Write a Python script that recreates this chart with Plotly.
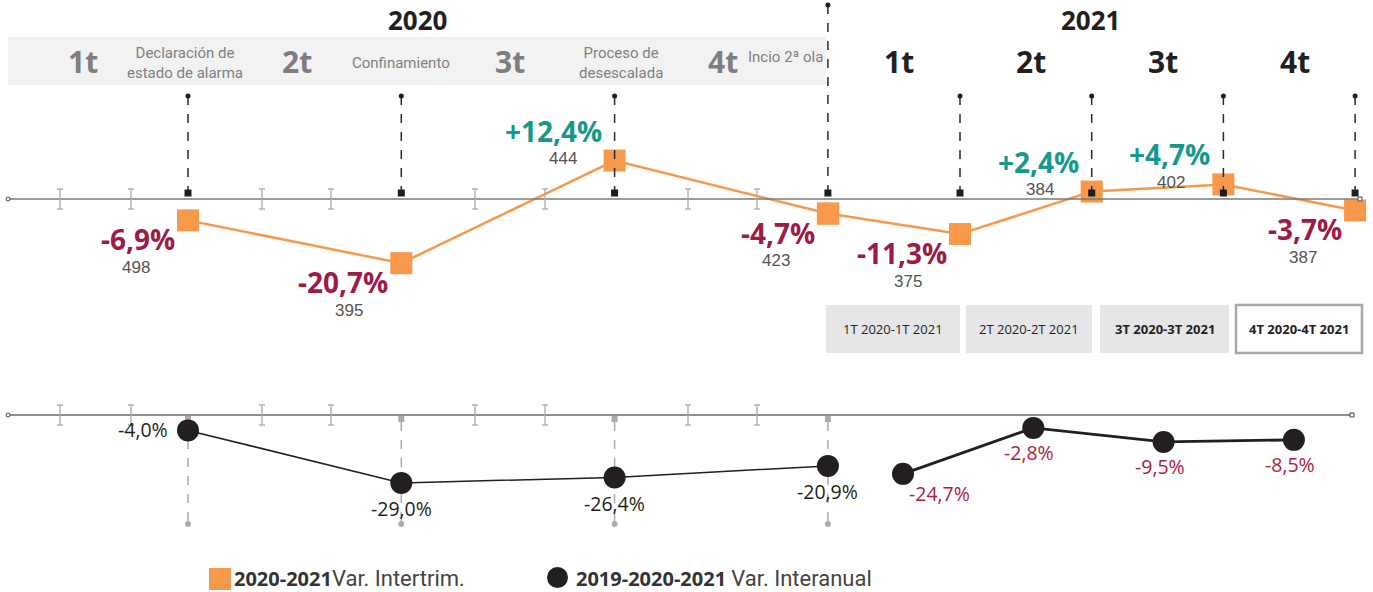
import plotly.graph_objects as go

# ---------------- data ----------------
quarters = [1, 2, 3, 4]
quarter_labels = ["1t", "2t", "3t", "4t"]
years = ["2020", "2021"]
events_2020 = ["Declaración de<br>estado de alarma", "Confinamiento",
               "Proceso de<br>desescalada", "Incio 2ª ola"]
var_intertrim_2020 = [-6.9, -20.7, 12.4, -4.7]
var_intertrim_2021 = [-11.3, 2.4, 4.7, -3.7]
total_2020 = [498, 395, 444, 423]
total_2021 = [375, 384, 402, 387]
var_interanual_2020 = [-4.0, -29.0, -26.4, -20.9]
var_interanual_2021 = [-24.7, -2.8, -9.5, -8.5]
comparison_labels = ["1T 2020-1T 2021", "2T 2020-2T 2021",
                     "3T 2020-3T 2021", "4T 2020-4T 2021"]
legend_bold = ["2020-2021", "2019-2020-2021"]
legend_text = ["Var. Intertrim.", "Var. Interanual"]

# ---------------- layout constants ----------------
W, H = 1373, 592
ORANGE = "#F7984A"
CRIMSON = "#9E1B45"
RED2 = "#B0203F"
TEAL = "#17998A"
DARK = "#231F20"
GRAY_NUM = "#555555"
FONT = "Open Sans"
NARROW = "Liberation Sans Narrow, Roboto"

X20 = (188, 213.3)    # pixel of quarter 1, pixels per quarter
X21T = (960, 131.7)
X21B = (903, 130.3)
YT = (199, 3.1)       # pixel of zero, pixels per unit
YB = (422, 2.1)


def xr(o, s):
    return [1 - o / s, 1 + (W - o) / s]


def yr(z, s):
    return [(z - H) / s, z / s]


def px(x):
    return x / W


def py(y):
    return 1 - y / H


def fmt(v, sign=False):
    s = f"{v:+.1f}%" if sign else f"{v:.1f}%"
    return s.replace(".", ",")


ann = []


def add_ann(**kw):
    d = dict(showarrow=False, xanchor="center", yanchor="middle")
    d.update(kw)
    ann.append(d)


fig = go.Figure()

# ---------------- traces ----------------
fig.add_trace(go.Scatter(x=quarters, y=var_intertrim_2020, xaxis="x", yaxis="y",
                         mode="lines+markers", line=dict(color=ORANGE, width=2.5),
                         marker=dict(symbol="square", size=22, color=ORANGE),
                         showlegend=False, hoverinfo="skip"))
fig.add_trace(go.Scatter(x=[0] + quarters, y=[var_intertrim_2020[-1]] + var_intertrim_2021,
                         xaxis="x2", yaxis="y",
                         mode="lines+markers", line=dict(color=ORANGE, width=2.5),
                         marker=dict(symbol="square", size=22, color=ORANGE),
                         showlegend=False, hoverinfo="skip"))
fig.add_trace(go.Scatter(x=quarters, y=var_interanual_2020, xaxis="x", yaxis="y2",
                         mode="lines+markers", line=dict(color=DARK, width=1.5),
                         marker=dict(symbol="circle", size=22, color=DARK),
                         showlegend=False, hoverinfo="skip"))
fig.add_trace(go.Scatter(x=quarters, y=var_interanual_2021, xaxis="x3", yaxis="y2",
                         mode="lines+markers", line=dict(color=DARK, width=2.8),
                         marker=dict(symbol="circle", size=22, color=DARK),
                         showlegend=False, hoverinfo="skip"))

shapes = []

# top band
shapes.append(dict(type="rect", xref="paper", yref="paper", x0=px(8), x1=px(826),
                   y0=py(85), y1=py(37), fillcolor="#F2F2F2", line=dict(width=0), layer="below"))

# baselines
shapes.append(dict(type="line", xref="paper", yref="y", x0=px(8), x1=px(1360), y0=0, y1=0,
                   line=dict(color="#7A7A7A", width=1.5)))
shapes.append(dict(type="line", xref="paper", yref="paper", x0=px(8), x1=px(1352),
                   y0=py(415), y1=py(415), line=dict(color="#6A6A6A", width=1.3)))
for yy, xe in [(199, 1360), (415, 1352)]:
    shapes.append(dict(type="circle", xref="paper", yref="paper", x0=px(6), x1=px(10),
                       y0=py(yy + 2), y1=py(yy - 2), fillcolor="white",
                       line=dict(color="#444", width=1)))
    shapes.append(dict(type="rect", xref="paper", yref="paper", x0=px(xe - 2), x1=px(xe + 2),
                       y0=py(yy + 2), y1=py(yy - 2), fillcolor="white",
                       line=dict(color="#444", width=1)))

# month ticks
TICK_X = [60, 131, 262, 331, 475, 545, 688, 757]
for yy in (199, 415):
    for tx in TICK_X:
        shapes.append(dict(type="line", xref="paper", yref="paper", x0=px(tx), x1=px(tx),
                           y0=py(yy - 10), y1=py(yy + 10), line=dict(color="#AAAAAA", width=1.3)))
        for cy in (yy - 10, yy + 10):
            shapes.append(dict(type="line", xref="paper", yref="paper", x0=px(tx - 3), x1=px(tx + 3),
                               y0=py(cy), y1=py(cy), line=dict(color="#AAAAAA", width=1.3)))

# top dashed quarter lines
for xref, q in [("x", 1), ("x", 2), ("x", 3), ("x", 4), ("x2", 1), ("x2", 2), ("x2", 3), ("x2", 4)]:
    top = 5 if (xref == "x" and q == 4) else 96
    shapes.append(dict(type="line", xref=xref, yref="paper", x0=q, x1=q,
                       y0=py(top), y1=py(194), line=dict(color="#2A2A2A", width=1.5, dash="dash")))
    shapes.append(dict(type="circle", xref=xref, yref="paper", xsizemode="pixel", ysizemode="pixel",
                       xanchor=q, yanchor=py(top), x0=-2.5, x1=2.5, y0=-2.5, y1=2.5,
                       fillcolor="#1E1E1E", line=dict(width=0)))
    shapes.append(dict(type="rect", xref=xref, yref="paper", xsizemode="pixel", ysizemode="pixel",
                       xanchor=q, yanchor=py(193), x0=-3.5, x1=3.5, y0=-3.5, y1=3.5,
                       fillcolor="#1E1E1E", line=dict(width=0)))

# bottom dashed lines (2020)
for q in quarters:
    shapes.append(dict(type="line", xref="x", yref="paper", x0=q, x1=q,
                       y0=py(422), y1=py(524), line=dict(color="#ABABAB", width=1.5, dash="dash"),
                       layer="below"))
    shapes.append(dict(type="rect", xref="x", yref="paper", xsizemode="pixel", ysizemode="pixel",
                       xanchor=q, yanchor=py(419), x0=-3, x1=3, y0=-3, y1=3,
                       fillcolor="#ABABAB", line=dict(width=0), layer="below"))
    shapes.append(dict(type="circle", xref="x", yref="paper", xsizemode="pixel", ysizemode="pixel",
                       xanchor=q, yanchor=py(524), x0=-3, x1=3, y0=-3, y1=3,
                       fillcolor="#ABABAB", line=dict(width=0), layer="below"))

# year headers
add_ann(x=px(417), y=py(20), xref="paper", yref="paper", text=f"<b>{years[0]}</b>",
        font=dict(family=FONT, size=26, color=DARK))
add_ann(x=px(1090), y=py(20), xref="paper", yref="paper", text=f"<b>{years[1]}</b>",
        font=dict(family=FONT, size=26, color=DARK))

# quarter labels in band
for q, lab in zip(quarters, quarter_labels):
    add_ann(x=q - 0.49, y=py(62), xref="x", yref="paper", text=f"<b>{lab}</b>",
            font=dict(family=FONT, size=30, color="#7E7E7E"))
    add_ann(x=q - 0.46, y=py(62), xref="x2", yref="paper", text=f"<b>{lab}</b>",
            font=dict(family=FONT, size=30, color=DARK))
EVENT_SHIFT = [-3, 0, 6, -42]
EVENT_Y = [63, 63, 63, 57]
for q, ev, sh, ey in zip(quarters, events_2020, EVENT_SHIFT, EVENT_Y):
    add_ann(x=q, y=py(ey), xref="x", yref="paper", xshift=sh, text=ev,
            font=dict(family=NARROW, size=15, color="#808080"), align="center")

# top labels
for xref, vals, tots in [("x", var_intertrim_2020, total_2020), ("x2", var_intertrim_2021, total_2021)]:
    for q, v, n in zip(quarters, vals, tots):
        pos = v > 0
        ys = 30 if pos else -19
        add_ann(x=q, y=v, xref=xref, yref="y", xanchor="right",
                xshift=-11, yshift=ys, text=f"<b>{fmt(v, sign=pos)}</b>",
                font=dict(family=FONT, size=28, color=TEAL if pos else CRIMSON))
        add_ann(x=q, y=v, xref=xref, yref="y",
                xshift=-52, yshift=ys - 28, text=str(n),
                font=dict(family="Liberation Sans", size=17, color=GRAY_NUM))

# bottom labels
for i, (q, v) in enumerate(zip(quarters, var_interanual_2020)):
    if i == 0:
        a = dict(xanchor="right", xshift=-18, yshift=1)
    else:
        a = dict(xanchor="center", xshift=0, yshift=-26)
    add_ann(x=q, y=v, xref="x", yref="y2", text=fmt(v),
            font=dict(family=FONT, size=19.5, color=DARK), **a)
for i, (q, v) in enumerate(zip(quarters, var_interanual_2021)):
    if i == 0:
        a = dict(xanchor="left", xshift=4, yshift=-20)
    else:
        a = dict(xanchor="center", xshift=-4, yshift=-25)
    add_ann(x=q, y=v, xref="x3", yref="y2", text=fmt(v),
            font=dict(family=FONT, size=19.5, color=RED2), **a)

# comparison boxes
BOX_X = [(826, 960), (966, 1092), (1100, 1229), (1236, 1362)]
for i, ((x0, x1), lab) in enumerate(zip(BOX_X, comparison_labels)):
    last = i == 3
    shapes.append(dict(type="rect", xref="paper", yref="paper", x0=px(x0), x1=px(x1),
                       y0=py(353), y1=py(305), fillcolor="white" if last else "#E6E6E8",
                       line=dict(color="#A8A8A8" if last else "#E6E6E8", width=2.5 if last else 0),
                       layer="below"))
    txt = f"<b>{lab}</b>" if i >= 2 else lab
    add_ann(x=px((x0 + x1) / 2), y=py(329), xref="paper", yref="paper", text=txt,
            font=dict(family=FONT, size=13, color="#222"))

# legend
shapes.append(dict(type="rect", xref="paper", yref="paper", x0=px(209), x1=px(231),
                   y0=py(590), y1=py(568), fillcolor=ORANGE, line=dict(width=0)))
shapes.append(dict(type="circle", xref="paper", yref="paper", x0=px(547), x1=px(568),
                   y0=py(588), y1=py(567), fillcolor=DARK, line=dict(width=0)))
for xl, b, t, sep in [(232, legend_bold[0], legend_text[0], ""), (574, legend_bold[1], legend_text[1], " ")]:
    add_ann(x=px(xl), y=py(578), xref="paper", yref="paper", xanchor="left",
            text=f"<b>{b}</b>{sep}<span style='font-family:{NARROW};font-size:22px;color:#444'>{t}</span>",
            font=dict(family=FONT, size=20, color="#333"))

axis_common = dict(visible=False, showgrid=False, zeroline=False, fixedrange=True)
fig.update_layout(
    width=W, height=H, margin=dict(l=0, r=0, t=0, b=0),
    paper_bgcolor="white", plot_bgcolor="white",
    xaxis=dict(range=xr(*X20), domain=[0, 1], anchor="y", **axis_common),
    xaxis2=dict(range=xr(*X21T), domain=[0, 1], anchor="y", overlaying="x", **axis_common),
    xaxis3=dict(range=xr(*X21B), domain=[0, 1], anchor="y2", overlaying="x", **axis_common),
    yaxis=dict(range=yr(*YT), domain=[0, 1], anchor="x", **axis_common),
    yaxis2=dict(range=yr(*YB), domain=[0, 1], anchor="x", overlaying="y", **axis_common),
    shapes=shapes, annotations=ann, showlegend=False,
)

fig.write_html("out.html", config=dict(displayModeBar=False),
               post_script="document.body.style.margin='0';document.body.style.overflow='hidden';")
